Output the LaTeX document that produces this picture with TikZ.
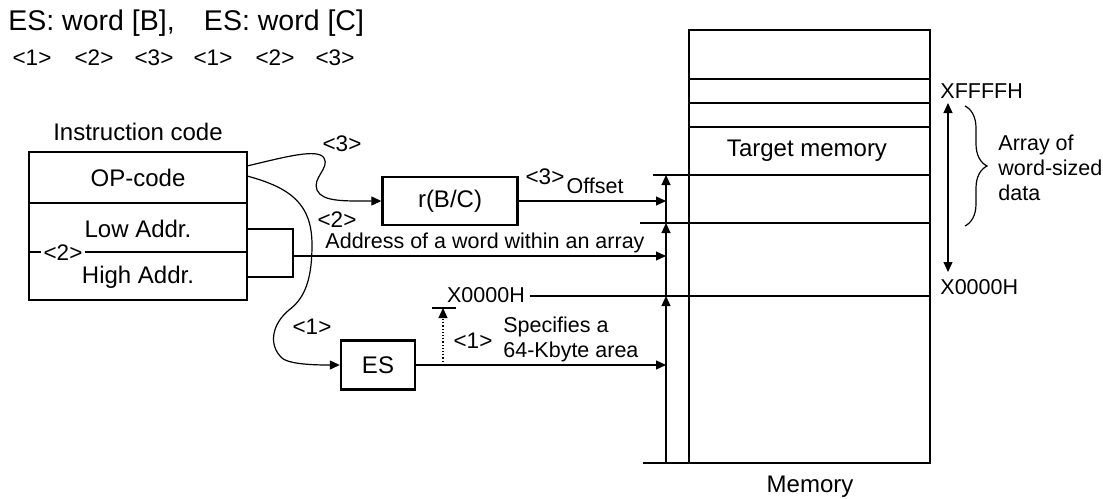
\documentclass[tikz,border=0pt]{standalone}
\usepackage{fontspec}
\setmainfont{Liberation Sans}
\usetikzlibrary{arrows.meta,positioning,calc,decorations.pathreplacing}

\begin{document}
\begin{tikzpicture}[
  x=0.5pt, y=-0.5pt,
  >={Triangle[length=5pt,width=4.5pt]},
  font=\fontsize{12}{14}\selectfont,
  box/.style={draw, line width=1.2pt, inner sep=0pt},
  cell/.style={line width=0.7pt},
  arr/.style={->, line width=0.6pt},
  note/.style={font=\fontsize{10.75}{12.5}\selectfont, inner sep=0pt},
  tag/.style={font=\fontsize{11.25}{13}\selectfont, inner sep=0pt}
]

\useasboundingbox (0,0) rectangle (1103,498);

% ---- X positions ----
\def\xv{666}   % offset arrows
\def\xml{689}  % memory left
\def\xmr{930}  % memory right

% ---- Title ----
\node[anchor=west, inner sep=0pt, font=\fontsize{14.25}{16}\selectfont] (title) at (8,23)
  {ES: word [B],\hspace{0.75em} ES: word [C]};
\foreach \x/\k [count=\i] in {32/1, 94/2, 154/3, 213/1, 275/2, 335/3} {
  \node[tag] (tag\i) at (\x,58) {<\k>};
}

% ---- Instruction code ----
\node (icaption) at (138,132) {Instruction code};
\node[box, minimum width=109pt, minimum height=74pt] (icode) at (138,226) {};
\draw[cell] (29,203) -- (247,203);
\draw[cell] (29,252) -- (247,252);
\node (opcode) at (138,178) {OP-code};
\node (lowaddr) at (138,229) {Low Addr.};
\node (highaddr) at (138,277) {High Addr.};
\node[tag, fill=white, inner sep=1.5pt] (tag2l) at (63,253) {<2>};

\coordinate (lohi) at (293,256);
\draw[cell] (247,229) -| (lohi) |- (247,277);

% ---- r(B/C) and ES ----
\node[box, minimum width=67.5pt, minimum height=24pt] (rbc) at (450,201) {r(B/C)};
\node[box, minimum width=37pt, minimum height=24.5pt] (es) at (378,365) {ES};

% ---- Memory ----
\node[box, minimum width=120.5pt, minimum height=216.5pt] (mem) at (809.5,246.5) {};
\foreach \y in {79,103,127}
  \draw[cell] (\xml,\y) -- (\xmr,\y);
\draw[cell] (653,175) -- (\xmr,175);
\draw[cell] (640,223) -- (\xmr,223);
\draw[cell] (530,296) -- (\xmr,296);
\draw[cell] (643,463) -- (\xml,463);
\node (target) at (807,151) {Target memory};
\node (memcap) at (810,487) {Memory};

% ---- Offsets into memory ----
\coordinate (b0) at (\xv,463);
\coordinate (b1) at (\xv,296);
\coordinate (b2) at (\xv,223);
\coordinate (b3) at (\xv,175);
\draw[arr] (b0) -- (b1);
\draw[arr] (b1) -- (b2);
\draw[arr] (b2) -- (b3);

\draw[arr] (rbc.east) -- (rbc.east -| b0);
\draw[arr] (lohi) -- (lohi -| b0);
\draw[arr] (es.east) -- (es.east -| b0);

% ---- Paths from the instruction ----
\coordinate (op3) at (247,166);
\coordinate (op1) at (247,176);
\draw[arr] (op3) .. controls (285,157) and (318,148) .. (324,158)
  .. controls (330,168) and (312,178) .. (317,190)
  .. controls (322,202) and (345,201) .. (rbc.west);
\draw[arr] (op1) .. controls (292,188) and (312,205) .. (312,245)
  .. controls (312,285) and (302,300) .. (289,310)
  .. controls (272,324) and (268,345) .. (282,358)
  .. controls (290,365) and (320,365) .. (es.west);

% ---- Labels ----
\node[tag] (tag3a) at (342,144) {<3>};
\node[tag] (tag2a) at (337,220) {<2>};
\node[note] (addrlbl) at (485,243) {Address of a word within an array};
\node[tag] (tag3b) at (545,177) {<3>};
\node[note] (offset) at (595,186) {Offset};
\node[tag] (tag1a) at (312,327) {<1>};
\node[tag] (tag1b) at (473,341) {<1>};
\node[note, anchor=west, align=left] (kbyte) at (503,339) {Specifies a\\64-Kbyte area};
\node[note] (x0l) at (486,295) {X0000H};

% ---- 64-Kbyte base ----
\coordinate (dot0) at (443,365);
\coordinate (dot1) at (443,308);
\draw[arr, densely dotted] (dot0) -- (dot1);
\draw[line width=0.6pt] (432,308) -- (456,308);

% ---- Array range ----
\node[note, anchor=west] (xf) at (940,91) {XFFFFH};
\node[note, anchor=west] (x0r) at (940,287) {X0000H};
\draw[arr, <->] (948,103) -- (948,272);
\draw[line width=0.6pt, decorate, decoration={brace, amplitude=11pt}] (965,106) -- (965,226);
\node[note, anchor=west, align=left] (arraylbl) at (998,168) {Array of\\word-sized\\data};

\end{tikzpicture}
\end{document}
